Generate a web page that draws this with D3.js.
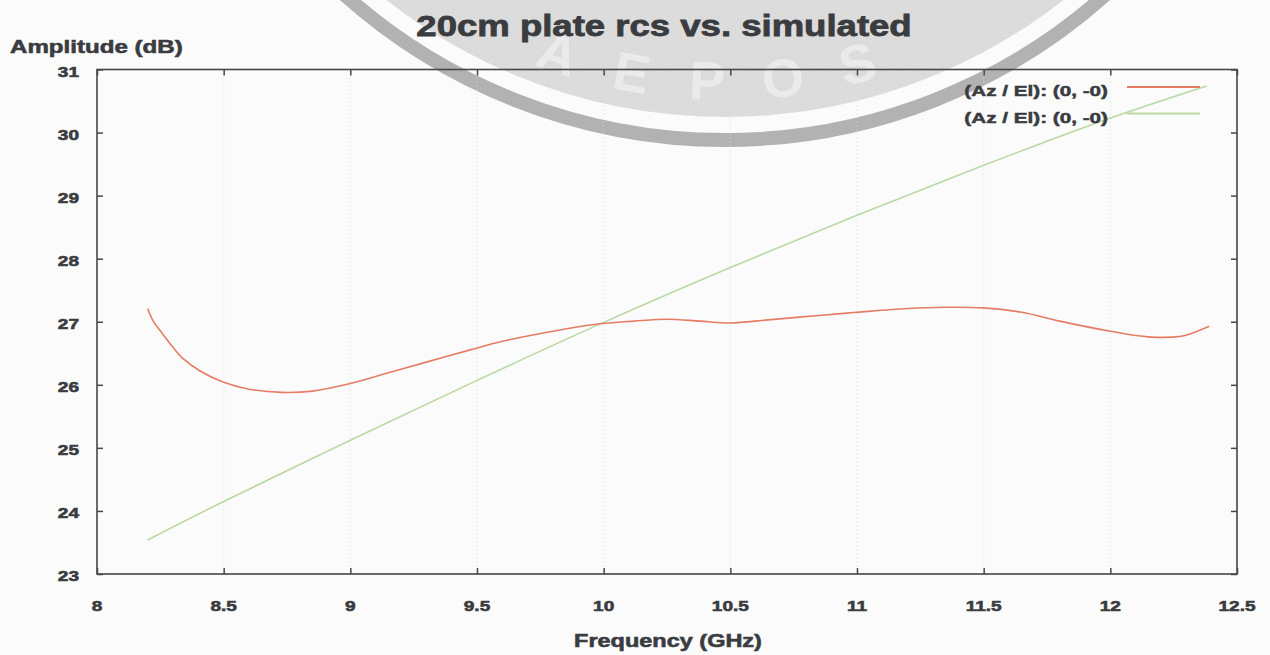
<!DOCTYPE html>
<html>
<head>
<meta charset="utf-8">
<script src="https://cdn.jsdelivr.net/npm/d3@7"></script>
<style>
  html, body { margin: 0; padding: 0; background: #fbfbfb; }
  svg { display: block; }
  text { font-family: "Liberation Sans", Arial, sans-serif; font-weight: bold; }
</style>
</head>
<body>
<script>
// measured curve (red)
const freqMeasured = [8.2, 8.222, 8.255, 8.295, 8.341, 8.407, 8.5, 8.6, 8.73, 8.85, 9.0, 9.15, 9.3, 9.47, 9.6, 9.8, 9.97,
    10.12, 10.25, 10.38, 10.5, 10.65, 10.85, 11.0, 11.2, 11.35, 11.5, 11.65, 11.8, 12.0, 12.15, 12.28, 12.33, 12.39];
const ampMeasured = [27.21, 27.01, 26.83, 26.62, 26.41, 26.22, 26.04, 25.93, 25.88, 25.90, 26.02, 26.19, 26.36, 26.55, 26.69, 26.85, 26.96,
    27.01, 27.04, 27.01, 26.98, 27.03, 27.10, 27.15, 27.21, 27.23, 27.22, 27.15, 27.01, 26.85, 26.76, 26.77, 26.83, 26.93];

// simulated curve (green)
const freqSimulated = [8.2, 8.5, 9.0, 9.5, 10.0, 10.5, 11.0, 11.5, 12.0, 12.38];
const ampSimulated = [23.54, 24.15, 25.12, 26.07, 26.99, 27.86, 28.69, 29.48, 30.23, 30.74];

const xTicks = [8, 8.5, 9, 9.5, 10, 10.5, 11, 11.5, 12, 12.5];
const yTicks = [23, 24, 25, 26, 27, 28, 29, 30, 31];
const legendLabels = ["(Az / El): (0, -0)", "(Az / El): (0, -0)"];
const sealLetters = ["A", "E", "P", "O", "S"];

const width = 1270, height = 655;
const plotLeft = 97, plotRight = 1237, plotTop = 69.5, plotBottom = 574;
const stretch = 1.27; // the scanned page is wider than tall
const ink = "#3a3c3f";
const red = "#e67c64", green = "#b9d9a4";

const svg = d3.select("body").append("svg")
    .attr("width", width)
    .attr("height", height);

// mottled texture for the repository stamp
const defs = svg.append("defs");
const f = defs.append("filter").attr("id", "grain").attr("x", 0).attr("y", 0).attr("width", 1).attr("height", 1);
f.append("feTurbulence").attr("type", "fractalNoise").attr("baseFrequency", 0.9).attr("numOctaves", 1).attr("result", "n");
f.append("feColorMatrix").attr("in", "n").attr("type", "matrix")
    .attr("values", "0 0 0 0 0.55  0 0 0 0 0.55  0 0 0 0 0.55  0 0 0 1.6 -0.45")
    .attr("result", "g");
f.append("feComposite").attr("in", "g").attr("in2", "SourceGraphic").attr("operator", "in");

// watermark seal behind everything
const sealX = 725, sealY = -431;
svg.append("circle")
    .attr("cx", sealX).attr("cy", sealY).attr("r", 548)
    .attr("fill", "#d4d4d4").attr("opacity", 0.72);
svg.append("circle")
    .attr("cx", sealX).attr("cy", sealY).attr("r", 548)
    .attr("fill", "#000")
    .attr("filter", "url(#grain)")
    .attr("opacity", 0.35);
svg.append("circle")
    .attr("cx", sealX).attr("cy", sealY).attr("r", 571)
    .attr("fill", "none")
    .attr("stroke", "#b2b2b2")
    .attr("stroke-width", 14);
sealLetters.forEach((ch, i) => {
    const deg = 109 - i * 8.5;
    const ang = deg * Math.PI / 180;
    const r = 531;
    const lx = sealX + r * Math.cos(ang), ly = sealY + r * Math.sin(ang);
    svg.append("text")
        .attr("transform", `translate(${lx},${ly}) rotate(${deg - 90})`)
        .attr("text-anchor", "middle")
        .attr("font-size", 54)
        .attr("fill", "#f0f0f0")
        .attr("opacity", 0.75)
        .text(ch);
});

const x = d3.scaleLinear().domain([8, 12.5]).range([plotLeft, plotRight]);
const y = d3.scaleLinear().domain([23, 31]).range([plotBottom, plotTop]);

// faint dotted grid
svg.append("g")
    .selectAll("line")
    .data(xTicks.slice(1, -1))
    .join("line")
    .attr("x1", d => x(d)).attr("x2", d => x(d))
    .attr("y1", plotTop).attr("y2", plotBottom)
    .attr("stroke", "#d8d8d8")
    .attr("stroke-width", 1)
    .attr("stroke-dasharray", "1,3");

// frame
svg.append("rect")
    .attr("x", plotLeft).attr("y", plotTop)
    .attr("width", plotRight - plotLeft).attr("height", plotBottom - plotTop)
    .attr("fill", "none")
    .attr("stroke", "#45474a")
    .attr("stroke-width", 1.6);

// inward ticks, all four sides
const tickLen = 6;
svg.append("g").call(d3.axisBottom(x).tickValues(xTicks).tickSizeInner(-tickLen).tickSizeOuter(0).tickFormat(""))
    .attr("transform", `translate(0,${plotBottom})`);
svg.append("g").call(d3.axisTop(x).tickValues(xTicks).tickSizeInner(-tickLen).tickSizeOuter(0).tickFormat(""))
    .attr("transform", `translate(0,${plotTop})`);
svg.append("g").call(d3.axisLeft(y).tickValues(yTicks).tickSizeInner(-tickLen).tickSizeOuter(0).tickFormat(""))
    .attr("transform", `translate(${plotLeft},0)`);
svg.append("g").call(d3.axisRight(y).tickValues(yTicks).tickSizeInner(-tickLen).tickSizeOuter(0).tickFormat(""))
    .attr("transform", `translate(${plotRight},0)`);
svg.selectAll(".domain").remove();
svg.selectAll(".tick line").attr("stroke", "#45474a").attr("stroke-width", 1.5);

// heavier ink like the scan
function ink_(sel, w) {
    return sel.attr("fill", ink).attr("stroke", ink).attr("stroke-width", w).attr("paint-order", "stroke");
}

// tick labels
ink_(svg.append("g")
    .selectAll("text")
    .data(xTicks)
    .join("text")
    .attr("transform", d => `translate(${x(d)},611) scale(${stretch},1)`)
    .attr("text-anchor", "middle")
    .attr("font-size", 15)
    .text(d => d), 0.6);

ink_(svg.append("g")
    .selectAll("text")
    .data(yTicks)
    .join("text")
    .attr("transform", d => `translate(79,${y(d) + 7}) scale(${stretch},1)`)
    .attr("text-anchor", "end")
    .attr("font-size", 15)
    .text(d => d), 0.6);

// titles
ink_(svg.append("text")
    .attr("transform", `translate(664,36) scale(1.26,1)`)
    .attr("text-anchor", "middle")
    .attr("font-size", 29)
    .text("20cm plate rcs vs. simulated"), 0.8);

ink_(svg.append("text")
    .attr("transform", `translate(10,53) scale(${stretch},1)`)
    .attr("font-size", 19)
    .text("Amplitude (dB)"), 0.6);

ink_(svg.append("text")
    .attr("transform", `translate(668,647) scale(${stretch},1)`)
    .attr("text-anchor", "middle")
    .attr("font-size", 18.5)
    .text("Frequency (GHz)"), 0.6);

// curves
const line = d3.line()
    .x(d => x(d[0]))
    .y(d => y(d[1]))
    .curve(d3.curveCatmullRom.alpha(0.5));

svg.append("path")
    .datum(d3.zip(freqSimulated, ampSimulated))
    .attr("d", line)
    .attr("fill", "none")
    .attr("stroke", green)
    .attr("stroke-width", 1.6);

svg.append("path")
    .datum(d3.zip(freqMeasured, ampMeasured))
    .attr("d", line)
    .attr("fill", "none")
    .attr("stroke", red)
    .attr("stroke-width", 1.6);

// legend
const legend = svg.append("g");
[red, green].forEach((c, i) => {
    const ly = 87 + i * 26.5;
    ink_(legend.append("text")
        .attr("transform", `translate(1108,${ly + 9}) scale(1.38,1)`)
        .attr("text-anchor", "end")
        .attr("font-size", 15)
        .text(legendLabels[i]), 0.5);
    legend.append("line")
        .attr("x1", 1127).attr("x2", 1200)
        .attr("y1", ly).attr("y2", ly)
        .attr("stroke", c)
        .attr("stroke-width", 1.8);
});
</script>
</body>
</html>
